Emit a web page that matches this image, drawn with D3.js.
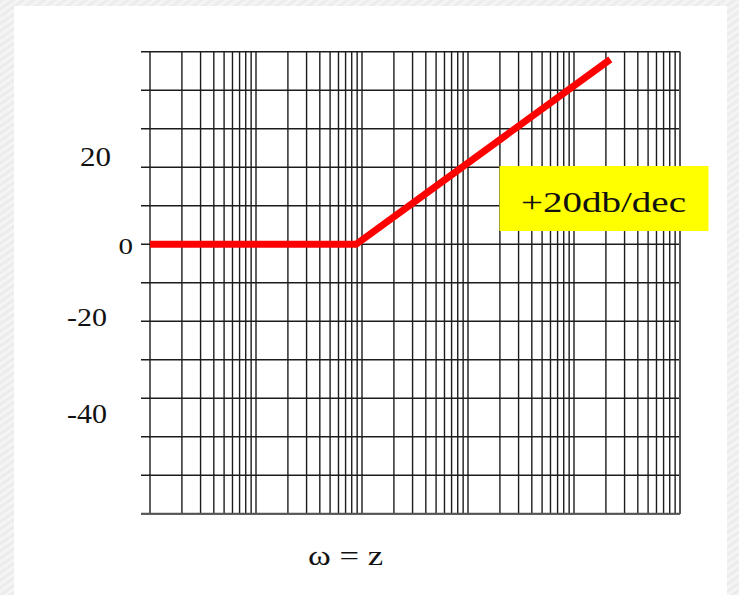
<!DOCTYPE html>
<html>
<head>
<meta charset="utf-8">
<script src="https://cdn.jsdelivr.net/npm/d3@7"></script>
<style>
  html, body { margin: 0; padding: 0; background: #efefef; }
  svg { display: block; }
</style>
</head>
<body>
<svg id="chart" width="739" height="595"></svg>
<script>
// Bode magnitude asymptote of a single zero: flat at 0 dB, then +20 dB/decade.
const omegaDomain = [1, 100000];          // five decades of semilog paper
const dbDomain = [-70, 50];               // dB range of the grid
const dbGrid = d3.range(-70, 51, 10);     // horizontal rulings every 10 dB
const dbLabels = ["20", "0", "-20", "-40"];
const dbLabelValues = [20, 0, -20, -40];
const asymptoteOmega = [1, 88, 22000];
const asymptoteDb = [0, 0, 48];
const slopeText = "+20db/dec";
const axisTitle = "\u03c9 = z";

// label layout: vertical nudge from the ruling, right edge, target width, font size
const labelLayout = [
  { dy: -1, right: 111, width: 31, size: 27 },
  { dy: 10, right: 133, width: 14.5, size: 24 },
  { dy: 5, right: 107, width: 40, size: 26 },
  { dy: 24.5, right: 107, width: 40, size: 27 }
];

const svg = d3.select("#chart");
const W = 739, H = 595;

// textured backdrop
const defs = svg.append("defs");
const pat = defs.append("pattern")
  .attr("id", "paper").attr("width", 6).attr("height", 6)
  .attr("patternUnits", "userSpaceOnUse")
  .attr("patternTransform", "rotate(-35)");
pat.append("rect").attr("width", 6).attr("height", 6).attr("fill", "#f0f0f0");
pat.append("line").attr("x1", 0).attr("y1", 1.5).attr("x2", 6).attr("y2", 1.5)
  .attr("stroke", "#e8e8e8").attr("stroke-width", 1);
pat.append("line").attr("x1", 0).attr("y1", 4.5).attr("x2", 6).attr("y2", 4.5)
  .attr("stroke", "#f9f9f9").attr("stroke-width", 1);
svg.append("rect").attr("width", W).attr("height", H).attr("fill", "url(#paper)");

// white slide panel
svg.append("rect").attr("x", 14).attr("y", 6).attr("width", 713).attr("height", H - 6)
  .attr("fill", "#ffffff");

const x = d3.scaleLog().domain(omegaDomain).range([150, 680]);
const y = d3.scaleLinear().domain(dbDomain).range([513.8, 51.7]);

const grid = svg.append("g").attr("stroke", "#1c1c1c").attr("stroke-width", 1.4);

// vertical log rulings (1..9 in every decade)
grid.selectAll("line.v").data(x.ticks()).join("line")
  .attr("class", "v")
  .attr("x1", d => x(d)).attr("x2", d => x(d))
  .attr("y1", y(dbDomain[1])).attr("y2", y(dbDomain[0]));

// horizontal rulings, extending a little left of the axis as ticks
grid.selectAll("line.h").data(dbGrid).join("line")
  .attr("class", "h")
  .attr("x1", 141).attr("x2", x(omegaDomain[1]))
  .attr("y1", d => y(d)).attr("y2", d => y(d));

// outer frame lines slightly heavier
svg.append("line").attr("x1", 141).attr("x2", x(omegaDomain[1]))
  .attr("y1", y(dbDomain[0])).attr("y2", y(dbDomain[0]))
  .attr("stroke", "#555").attr("stroke-width", 2);
svg.append("line").attr("x1", x(omegaDomain[1])).attr("x2", x(omegaDomain[1]))
  .attr("y1", y(dbDomain[1])).attr("y2", y(dbDomain[0]))
  .attr("stroke", "#555").attr("stroke-width", 2);

// dB labels
const fontFamily = "'Liberation Serif', 'Times New Roman', serif";
svg.selectAll("text.db").data(dbLabels).join("text")
  .attr("class", "db")
  .attr("x", (d, i) => labelLayout[i].right - labelLayout[i].width)
  .attr("y", (d, i) => y(dbLabelValues[i]) + labelLayout[i].dy)
  .attr("textLength", (d, i) => labelLayout[i].width)
  .attr("lengthAdjust", "spacingAndGlyphs")
  .attr("font-family", fontFamily)
  .attr("font-size", (d, i) => labelLayout[i].size)
  .attr("fill", "#111")
  .text(d => d);

// asymptote
const line = d3.line()
  .x((d, i) => x(asymptoteOmega[i]))
  .y((d, i) => y(asymptoteDb[i]));
svg.append("path")
  .attr("d", line(asymptoteOmega))
  .attr("fill", "none")
  .attr("stroke", "#ff0000")
  .attr("stroke-width", 7)
  .attr("stroke-linejoin", "miter");

// slope annotation
svg.append("rect").attr("x", 499.5).attr("y", 166).attr("width", 209).attr("height", 65)
  .attr("fill", "#ffff00");
svg.append("text")
  .attr("x", 521).attr("y", 212)
  .attr("textLength", 165).attr("lengthAdjust", "spacingAndGlyphs")
  .attr("font-family", fontFamily).attr("font-size", 30)
  .attr("fill", "#111")
  .text(slopeText);

// frequency axis title
svg.append("text")
  .attr("x", 308).attr("y", 565)
  .attr("textLength", 75).attr("lengthAdjust", "spacingAndGlyphs")
  .attr("font-family", fontFamily).attr("font-size", 27)
  .attr("fill", "#111")
  .text(axisTitle);
</script>
</body>
</html>
